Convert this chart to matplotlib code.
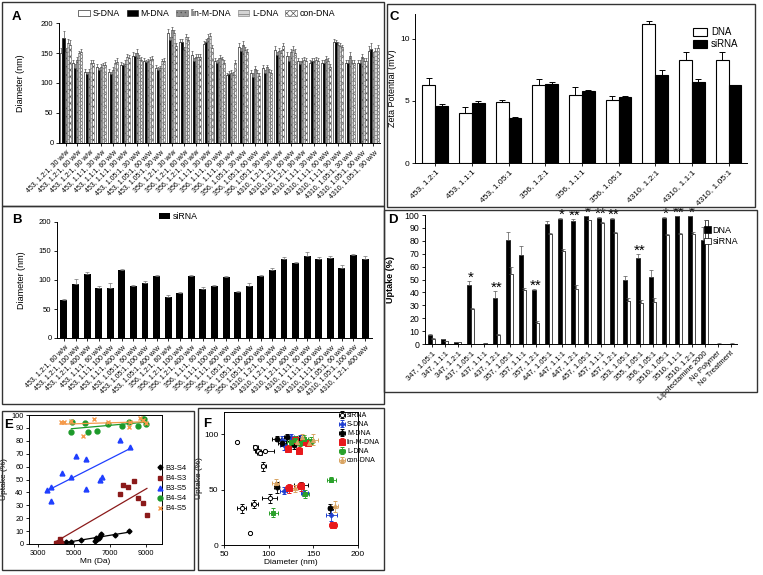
import numpy as np
import matplotlib
matplotlib.use('Agg')
import matplotlib.pyplot as plt
from matplotlib.patches import Rectangle

plt.rcParams['font.family'] = ['Liberation Sans', 'DejaVu Sans']
plt.rcParams['hatch.linewidth'] = 0.5
plt.rcParams['axes.linewidth'] = 0.7
plt.rcParams['xtick.major.width'] = 0.6
plt.rcParams['ytick.major.width'] = 0.6
plt.rcParams['xtick.major.size'] = 2.5
plt.rcParams['ytick.major.size'] = 2.5
plt.rcParams['xtick.major.pad'] = 1.5
plt.rcParams['ytick.major.pad'] = 1.5

# ---- panel A: DNA polyplex diameters
polymers = ['453', '356', '4310']
ratios = ['1.2:1', '1.1:1', '1.05:1']
a_labels = [f'{p}, {r}, {w} w/w' for p in polymers for r in ratios for w in (30, 60, 90)]
a_sdna = [150, 134, 119, 127, 119, 130, 145, 136, 125, 184, 169, 147, 165, 137, 113, 160, 117, 125, 155, 145, 137, 133, 133, 169, 133, 133, 154]
a_mdna = [175, 125, 115, 121, 115, 130, 145, 135, 122, 171, 169, 137, 168, 134, 115, 153, 110, 117, 147, 137, 132, 137, 134, 169, 134, 134, 156]
a_lin = [151, 139, 119, 127, 122, 132, 150, 136, 125, 188, 155, 144, 175, 141, 116, 164, 123, 126, 153, 151, 136, 136, 140, 164, 145, 143, 144]
a_ldna = [166, 150, 133, 130, 134, 144, 141, 139, 136, 183, 177, 144, 179, 140, 113, 155, 116, 119, 150, 155, 139, 139, 136, 162, 134, 136, 153]
a_con = [164, 152, 133, 130, 135, 141, 139, 140, 137, 161, 172, 144, 158, 133, 133, 151, 112, 117, 161, 150, 136, 137, 126, 160, 133, 136, 158]
a_err_s = [8, 5, 4, 5, 4, 5, 6, 5, 5, 6, 5, 6, 5, 5, 4, 6, 5, 5, 6, 6, 5, 5, 5, 4, 6, 6, 7]
a_err_m = [12, 6, 3, 4, 3, 4, 5, 4, 4, 6, 4, 5, 5, 4, 5, 5, 6, 4, 5, 8, 5, 4, 4, 3, 5, 5, 10]
a_err_lin = [8, 5, 4, 5, 4, 6, 6, 4, 4, 5, 5, 5, 6, 5, 5, 6, 6, 4, 5, 5, 5, 6, 5, 4, 6, 5, 8]
a_err_l = [8, 4, 5, 4, 5, 5, 5, 5, 4, 5, 5, 5, 5, 4, 5, 5, 5, 5, 5, 6, 5, 5, 5, 4, 5, 5, 6]
a_err_con = [7, 5, 5, 5, 6, 6, 5, 5, 5, 6, 5, 5, 5, 5, 6, 5, 5, 5, 5, 6, 5, 5, 5, 4, 5, 5, 6]

# ---- panel B: siRNA polyplex diameters
b_labels = [f'{p}, {r}, {w} w/w' for p in polymers for r in ratios for w in (60, 100, 400)]
b_labels[-1] = '4310, 1.2:1, 400 w/w'
b_sirna = [66, 93, 110, 87, 87, 117, 90, 94, 107, 70, 77, 107, 85, 89, 106, 80, 90, 107, 117, 137, 129, 142, 137, 138, 121, 143, 137]
b_err = [1, 8, 3, 2, 7, 2, 2, 5, 2, 4, 3, 2, 3, 3, 1, 1, 4, 1, 3, 3, 2, 7, 2, 4, 5, 2, 4]

# ---- panel C: zeta potential
c_labels = ['453, 1.2:1', '453, 1.1:1', '453, 1.05:1', '356, 1.2:1', '356, 1.1:1',
            '356, 1.05:1', '4310, 1.2:1', '4310, 1.1:1', '4310, 1.05:1']
c_dna = [6.3, 4.0, 4.9, 6.3, 5.5, 5.1, 11.2, 8.3, 8.3]
c_dna_err = [0.55, 0.5, 0.2, 0.5, 0.6, 0.3, 0.2, 0.6, 0.6]
c_sirna = [4.6, 4.8, 3.6, 6.35, 5.8, 5.35, 7.1, 6.55, 6.25]
c_sirna_err = [0.15, 0.2, 0.1, 0.15, 0.05, 0.05, 0.35, 0.2, 0.05]

# ---- panel D: uptake
d_labels = ['347, 1.05:1', '347, 1.1:1', '347, 1.2:1', '437, 1.05:1', '437, 1.1:1', '437, 1.2:1',
            '357, 1.05:1', '357, 1.1:1', '357, 1.2:1', '447, 1.05:1', '447, 1.1:1', '447, 1.2:1',
            '457, 1.05:1', '457, 1.1:1', '457, 1.2:1', '353, 1.05:1', '355, 1.05:1', '356, 1.05:1',
            '3510, 1.05:1', '3510, 1.1:1', '3510, 1.2:1', 'Lipofectamine 2000', 'No Polymer', 'No Treatment']
d_dna = [7, 3.5, 1.5, 46, 0.2, 36, 81, 69, 42, 93, 97, 95, 99, 98, 97, 50, 66.5, 52, 98, 99, 99, 80.7, 0.3, 0.3]
d_dna_err = [1, 0.5, 0.3, 3, 0, 5, 6, 7, 1, 2, 0.5, 2, 0.5, 0.5, 0.5, 3, 3, 5, 0.5, 0.5, 0.5, 10, 0, 0]
d_sirna = [4, 2, 1.5, 27, 0.5, 7, 54, 41.5, 16, 85, 72, 43, 96, 94, 86, 33, 32, 32.5, 84.5, 85, 85, 96, 0.3, 0.3]
d_sirna_err = [0.5, 0.3, 0.2, 1, 0.2, 1, 6, 2, 2, 1, 2, 3, 0.5, 0.5, 1, 3, 2, 3, 1, 1, 2, 0.5, 0.1, 0.1]
d_stars = {3: '*', 5: '**', 8: '**', 10: '*', 11: '**', 12: '*', 13: '**', 14: '**',
           16: '**', 18: '*', 19: '**', 20: '*'}

# ---- panel E: uptake vs Mn
e_b3s4_x = [4270, 4550, 4830, 5420, 6170, 6200, 6300, 6410, 6450, 6480, 7290, 8090]
e_b3s4_y = [1.5, 1.3, 1.8, 3.1, 2.6, 4.6, 4.1, 4.6, 6.2, 7.5, 7.0, 10.3]
e_b4s3_x = [3990, 4060, 4210, 4270, 4300, 7560, 7710, 8030, 8350, 8590, 8830, 9060]
e_b4s3_y = [0.5, 1.0, 4.1, 1.0, 0.3, 38.8, 45.7, 44.4, 49.0, 35.9, 31.5, 22.5]
e_b3s5_x = [3520, 3710, 3750, 4360, 4810, 5110, 5660, 5660, 6450, 6540, 7560, 8120]
e_b3s5_y = [42, 33, 44.4, 54.8, 51.7, 68, 66, 42.6, 49.6, 51.7, 81, 75]
e_b4s4_x = [4860, 4920, 5610, 5790, 6260, 6910, 7660, 8090, 8590, 8830, 8910, 9000]
e_b4s4_y = [86.6, 94.3, 93.8, 86.6, 87.9, 92.8, 91.5, 94.6, 91.7, 96.6, 96.6, 92.8]
e_b4s5_x = [4270, 4450, 4830, 5480, 6130, 6880, 8090, 8120, 8650, 8870, 9000]
e_b4s5_y = [94.3, 94.8, 95.3, 84, 96.9, 94.3, 91, 94.6, 97.9, 96.1, 93.5]

# ---- panel F: uptake vs diameter
f_sirna_x = [65, 85, 88, 96, 90, 94, 101, 84, 70, 79]
f_sirna_y = [93, 88, 85, 85, 83, 71, 42, 37, 33, 11]
f_sirna_xe = [1, 3, 3, 10, 3, 3, 8, 4, 5, 1]
f_sirna_ye = [1, 2, 2, 1, 2, 4, 4, 4, 4, 1]
f_s_x = [115, 117, 117, 140, 170, 125, 130, 135, 140]
f_s_y = [95, 90, 49, 47, 27, 97, 93, 96, 94]
f_s_xe = [4, 4, 4, 4, 6, 3, 3, 3, 3]
f_s_ye = [3, 4, 3, 3, 5, 3, 3, 3, 3]
f_m_x = [109, 115, 109, 136, 169, 128, 133, 120]
f_m_y = [96, 92, 52, 54, 33, 90, 95, 97]
f_m_xe = [5, 4, 3, 8, 3, 3, 3, 3]
f_m_ye = [2, 3, 5, 3, 4, 3, 3, 3]
f_lin_x = [122, 134, 123, 136, 172, 144, 130, 138]
f_lin_y = [87, 85, 51, 53, 18, 92, 95, 93]
f_lin_xe = [3, 3, 5, 4, 4, 4, 4, 4]
f_lin_ye = [3, 3, 4, 4, 2, 3, 3, 3]
f_l_x = [170, 105, 141, 129, 135, 140, 125, 147]
f_l_y = [59, 29, 46, 95, 92, 96, 93, 94]
f_l_xe = [5, 5, 4, 5, 4, 4, 4, 4]
f_l_ye = [2, 4, 4, 3, 3, 3, 3, 3]
f_con_x = [108, 129, 174, 150, 145, 137, 132]
f_con_y = [56, 51, 35, 95, 92, 97, 93]
f_con_xe = [4, 4, 4, 5, 5, 4, 4]
f_con_ye = [4, 3, 5, 5, 3, 3, 3]

W, H = 763, 575
fig = plt.figure(figsize=(W / 100, H / 100), dpi=100)


def box(l, t, r, b):
    return [l / W, 1 - b / H, (r - l) / W, (b - t) / H]


def clean(ax):
    ax.spines['top'].set_visible(False)
    ax.spines['right'].set_visible(False)


# panel A
axA = fig.add_axes(box(59, 23, 380, 143))
x = np.arange(len(a_labels))
a_series = [('S-DNA', a_sdna, a_err_s, 'white', None, 'black'),
            ('M-DNA', a_mdna, a_err_m, 'black', None, 'black'),
            ('lin-M-DNA', a_lin, a_err_lin, '#8f8f8f', '....', '#555555'),
            ('L-DNA', a_ldna, a_err_l, '#d4d4d4', '----', '#777777'),
            ('con-DNA', a_con, a_err_con, 'white', 'xxxxx', '#555555')]
bw = 0.17
for i, (name, vals, errs, fc, hatch, ec) in enumerate(a_series):
    axA.bar(x + (i - 2) * bw, vals, bw, color=fc, edgecolor=ec, hatch=hatch, linewidth=0.4,
            yerr=[np.zeros(len(vals)), errs], error_kw=dict(elinewidth=0.5, capsize=1, ecolor='#555555', capthick=0.5),
            label=name)
axA.set_xlim(-0.55, len(a_labels) - 0.45)
axA.set_ylim(0, 200)
axA.set_yticks([0, 50, 100, 150, 200])
axA.set_xticks(x)
axA.set_xticklabels(a_labels, rotation=45, ha='right', rotation_mode='anchor', fontsize=5)
axA.tick_params(axis='y', labelsize=5.5)
axA.set_ylabel('Diameter (nm)', fontsize=6.5)
axA.yaxis.set_label_coords(-0.105, 0.5)
clean(axA)
axA.legend(ncol=5, loc='lower center', bbox_to_anchor=(0.46, 1.0), frameon=False, fontsize=6.3,
           handlelength=1.3, handleheight=0.7, columnspacing=0.8, handletextpad=0.3, borderaxespad=0.2)

# panel B
axB = fig.add_axes(box(57, 222, 372, 338))
xb = np.arange(len(b_labels))
axB.bar(xb, b_sirna, 0.6, color='black', yerr=[np.zeros(len(b_sirna)), b_err],
        error_kw=dict(elinewidth=0.5, capsize=1.5, ecolor='#777777', capthick=0.5), label='siRNA')
axB.set_xlim(-0.6, len(b_labels) - 0.4)
axB.set_ylim(0, 200)
axB.set_yticks([0, 50, 100, 150, 200])
axB.set_xticks(xb)
axB.set_xticklabels(b_labels, rotation=45, ha='right', rotation_mode='anchor', fontsize=5)
axB.tick_params(axis='y', labelsize=5.5)
axB.set_ylabel('Diameter (nm)', fontsize=6.5)
axB.yaxis.set_label_coords(-0.1, 0.5)
clean(axB)
axB.legend(loc='lower left', bbox_to_anchor=(0.31, 0.97), frameon=False, fontsize=6.3,
           handlelength=1.3, handleheight=0.7, handletextpad=0.3, borderaxespad=0.1)

# panel C
axC = fig.add_axes(box(415, 14, 747, 163))
xc = np.arange(len(c_labels))
cw = 0.35
axC.bar(xc - cw / 2, c_dna, cw, color='white', edgecolor='black', linewidth=0.8,
        yerr=[np.zeros(len(c_dna)), c_dna_err], error_kw=dict(elinewidth=0.7, capsize=2.5, capthick=0.7), label='DNA')
axC.bar(xc + cw / 2, c_sirna, cw, color='black', edgecolor='black', linewidth=0.8,
        yerr=[np.zeros(len(c_sirna)), c_sirna_err], error_kw=dict(elinewidth=0.7, capsize=2.5, capthick=0.7), label='siRNA')
axC.set_xlim(-0.55, len(c_labels) - 0.5)
axC.set_ylim(0, 12)
axC.set_yticks([0, 5, 10])
axC.set_xticks(xc)
axC.set_xticklabels(c_labels, rotation=45, ha='right', rotation_mode='anchor', fontsize=6)
axC.tick_params(axis='y', labelsize=6)
axC.set_ylabel('Zeta Potential (mV)', fontsize=6.5)
axC.yaxis.set_label_coords(-0.055, 0.5)
clean(axC)
axC.legend(loc='upper right', bbox_to_anchor=(1.0, 0.97), frameon=False, fontsize=7,
           handlelength=1.4, handleheight=0.8, handletextpad=0.4, labelspacing=0.2)

# panel D
axD = fig.add_axes(box(425, 215, 737, 344))
xd = np.arange(len(d_labels))
dw = 0.3
axD.bar(xd - dw / 2, d_dna, dw, color='black', edgecolor='black', linewidth=0.5,
        yerr=[np.zeros(len(d_dna)), d_dna_err], error_kw=dict(elinewidth=0.5, capsize=1.2, capthick=0.5, ecolor='#555555'),
        label='DNA')
axD.bar(xd + dw / 2, d_sirna, dw, color='white', edgecolor='black', linewidth=0.5,
        yerr=[np.zeros(len(d_sirna)), d_sirna_err], error_kw=dict(elinewidth=0.5, capsize=1.2, capthick=0.5, ecolor='#555555'),
        label='siRNA')
for i, s in d_stars.items():
    axD.text(i, d_dna[i] + d_dna_err[i] - 3, s, ha='center', va='bottom', fontsize=11, clip_on=False)
axD.set_xlim(-0.5, len(d_labels) - 0.5)
axD.set_ylim(0, 100)
axD.set_yticks(np.arange(0, 101, 10))
axD.set_xticks(xd)
axD.set_xticklabels(d_labels, rotation=45, ha='right', rotation_mode='anchor', fontsize=5.5)
axD.tick_params(axis='y', labelsize=6.3)
axD.set_ylabel('Uptake (%)', fontsize=6.5, fontweight='bold')
axD.yaxis.set_label_coords(-0.095, 0.5)
clean(axD)
axD.legend(loc='upper right', bbox_to_anchor=(1.03, 0.98), frameon=False, fontsize=6.5,
           handlelength=0.7, handleheight=0.7, handletextpad=0.2, labelspacing=0.3)

# panel E
axE = fig.add_axes(box(29, 415, 162, 544))
e_series = [('B3-S4', e_b3s4_x, e_b3s4_y, 'black', 'D', 2.5),
            ('B4-S3', e_b4s3_x, e_b4s3_y, '#8b1a1a', 's', 3.5),
            ('B3-S5', e_b3s5_x, e_b3s5_y, '#1f3fff', '^', 3.5),
            ('B4-S4', e_b4s4_x, e_b4s4_y, '#1d9a2a', 'o', 3.5),
            ('B4-S5', e_b4s5_x, e_b4s5_y, '#f59a4a', 'x', 3.5)]
for name, xs, ys, col, mk, ms in e_series:
    xs = np.array(xs)
    ys = np.array(ys)
    axE.plot(xs, ys, linestyle='none', marker=mk, color=col, ms=ms, mew=1, label=name)
    k, b0 = np.polyfit(xs, ys, 1)
    xl = np.array([xs.min(), xs.max()])
    axE.plot(xl, k * xl + b0, color=col, lw=0.9)
axE.set_xlim(2500, 9900)
axE.set_ylim(0, 100)
axE.set_xticks([3000, 5000, 7000, 9000])
axE.set_yticks(np.arange(0, 101, 10))
axE.tick_params(labelsize=5.3)
axE.set_xlabel('Mn (Da)', fontsize=6, labelpad=1)
axE.set_ylabel('Uptake (%)', fontsize=6)
axE.yaxis.set_label_coords(-0.16, 0.5)
axE.legend(loc='center left', bbox_to_anchor=(0.97, 0.43), frameon=False, fontsize=5.5,
           handlelength=0.6, handletextpad=0.4, labelspacing=0.35, borderaxespad=0, borderpad=0)

# panel F
axF = fig.add_axes(box(224, 412, 358, 545))
f_series = [('siRNA', f_sirna_x, f_sirna_y, f_sirna_xe, f_sirna_ye, 'black', 'o', 'white', 3),
            ('S-DNA', f_s_x, f_s_y, f_s_xe, f_s_ye, '#1f3fd0', 'P', '#1f3fd0', 3),
            ('M-DNA', f_m_x, f_m_y, f_m_xe, f_m_ye, 'black', 'o', 'black', 3.5),
            ('lin-M-DNA', f_lin_x, f_lin_y, f_lin_xe, f_lin_ye, '#e8191c', 's', '#e8191c', 4),
            ('L-DNA', f_l_x, f_l_y, f_l_xe, f_l_ye, '#2aa12a', 's', '#2aa12a', 3.5),
            ('con-DNA', f_con_x, f_con_y, f_con_xe, f_con_ye, '#d9a462', '^', '#d9a462', 3)]
for name, xs, ys, xe, ye, col, mk, fc, ms in f_series:
    axF.errorbar(xs, ys, xerr=xe, yerr=ye, fmt=mk, color=col, mfc=fc, mec=col, ms=ms,
                 elinewidth=0.6, capsize=1.5, capthick=0.6, mew=0.7, label=name)
axF.set_xlim(50, 200)
axF.set_ylim(0, 120)
axF.set_xticks([50, 100, 150, 200])
axF.set_yticks([0, 50, 100])
axF.tick_params(labelsize=6)
axF.set_xlabel('Diameter (nm)', fontsize=6, labelpad=1)
axF.set_ylabel('Uptake (%)', fontsize=6)
axF.yaxis.set_label_coords(-0.155, 0.5)
axF.legend(loc='upper left', bbox_to_anchor=(0.86, 1.0), frameon=False, fontsize=5,
           handlelength=0.8, handletextpad=0.3, labelspacing=0.3, borderaxespad=0, borderpad=0)

# panel frames
frames = [(2, 2, 384, 206), (2, 206, 384, 404), (387, 4, 755, 207), (384, 210, 757, 392),
          (2, 411, 194, 570), (198, 408, 384, 570)]
for l, t, r, b in frames:
    fig.add_artist(Rectangle((l / W, 1 - b / H), (r - l) / W, (b - t) / H, transform=fig.transFigure,
                             fill=False, lw=1.0, ec='#333333'))

letters = [('A', 12, 20), ('B', 12, 223), ('C', 390, 20), ('D', 388, 223), ('E', 4, 428), ('F', 203, 427)]
for s, px, py in letters:
    fig.text(px / W, 1 - py / H, s, fontsize=9.5, fontweight='heavy', va='baseline')

fig.savefig('out.png', dpi=100)
